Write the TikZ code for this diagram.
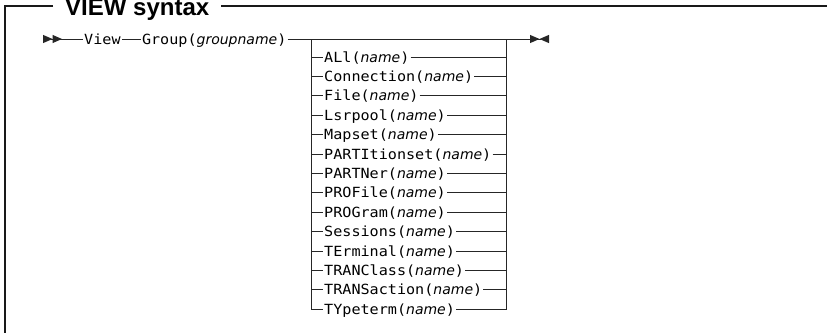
\documentclass[tikz,border=0pt]{standalone}
\usepackage{fontspec}
\usepackage{tikz}
\usetikzlibrary{arrows.meta, positioning}
\newfontfamily\synfont{DejaVu Sans Mono}[FakeStretch=1.08]
\newfontfamily\varfont{DejaVu Sans}
\newfontfamily\headfont{Liberation Sans}
\newcommand{\synvar}[1]{{\varfont\itshape #1}}
\tikzset{every node/.append style={inner sep=0pt}}

\begin{document}
\begin{tikzpicture}[
    x=1pt, y=-1pt,
    kw/.style={inner xsep=1pt, text height=11pt, text depth=1pt,
        font=\fontsize{14pt}{16pt}\synfont},
    rail/.style={line width=1pt, draw=black!85},
    frame/.style={line width=1.8pt, draw=black!90},
    ftip/.tip={Triangle[length=9.5pt, width=8pt]},
    btip/.tip={Triangle[length=9.5pt, width=8pt, reversed]}
]
\useasboundingbox (0,0) rectangle (827,332);
% heading and frame
\node[anchor=base west, inner xsep=12pt, font=\fontsize{24pt}{28pt}\headfont\bfseries]
    (title) at (53,15) {VIEW syntax};
\coordinate (ftop) at (5,6);
\coordinate (fright) at (827,6);
\coordinate (fbot) at (5,334);
\draw[frame] (title.west |- ftop) -- (ftop) -- (fbot);
\draw[frame] (title.east |- ftop) -- (fright);
% main line
\coordinate (beg) at (43,39);
\node[kw, anchor=west] (view) at (83,39) {View};
\node[kw, right=19pt of view] (grp) {Group(\synvar{groupname})};
\coordinate (fin) at (549,39);
\coordinate (ltop) at (311,39);
\coordinate (rtop) at (506,39);
\draw[rail, {btip[] btip[]}-] (beg) -- (view.west);
\draw[rail] (view.east) -- (grp.west);
\draw[rail, -{ftip[] btip[]}] (grp.east) -- (fin);
% choices
\node[kw, anchor=west] (all) at (323,57) {ALl(\synvar{name})};
\node[kw, below right=7pt and 0pt of all.south west] (conn) {Connection(\synvar{name})};
\node[kw, below right=7pt and 0pt of conn.south west] (file) {File(\synvar{name})};
\node[kw, below right=7pt and 0pt of file.south west] (lsr) {Lsrpool(\synvar{name})};
\node[kw, below right=7pt and 0pt of lsr.south west] (map) {Mapset(\synvar{name})};
\node[kw, below right=7pt and 0pt of map.south west] (part) {PARTItionset(\synvar{name})};
\node[kw, below right=7pt and 0pt of part.south west] (ptnr) {PARTNer(\synvar{name})};
\node[kw, below right=7pt and 0pt of ptnr.south west] (prof) {PROFile(\synvar{name})};
\node[kw, below right=7pt and 0pt of prof.south west] (prog) {PROGram(\synvar{name})};
\node[kw, below right=7pt and 0pt of prog.south west] (sess) {Sessions(\synvar{name})};
\node[kw, below right=7pt and 0pt of sess.south west] (term) {TErminal(\synvar{name})};
\node[kw, below right=7pt and 0pt of term.south west] (tcls) {TRANClass(\synvar{name})};
\node[kw, below right=7pt and 0pt of tcls.south west] (tran) {TRANSaction(\synvar{name})};
\node[kw, below right=7pt and 0pt of tran.south west] (typ) {TYpeterm(\synvar{name})};
\draw[rail] (ltop) -- (ltop |- typ.west) -- (typ.west);
\draw[rail] (rtop) -- (rtop |- typ.east) -- (typ.east);
\foreach \n in {all,conn,file,lsr,map,part,ptnr,prof,prog,sess,term,tcls,tran}
    \draw[rail] (ltop |- \n.west) -- (\n.west) (\n.east) -- (rtop |- \n.east);
\end{tikzpicture}
\end{document}
